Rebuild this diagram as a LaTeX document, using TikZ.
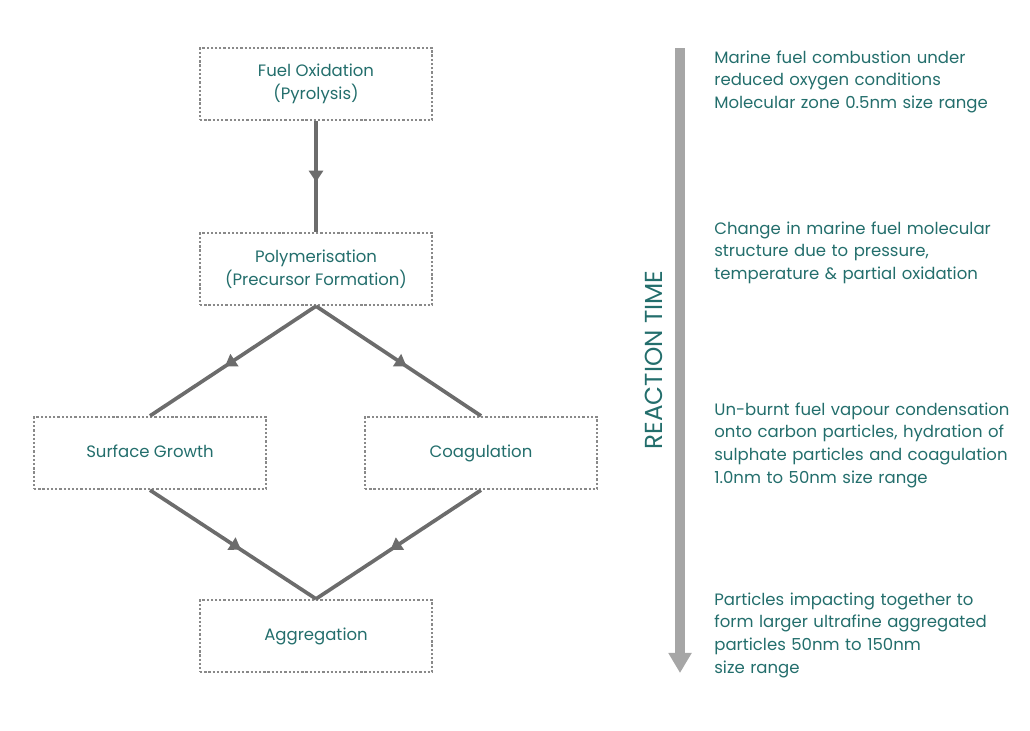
\documentclass[tikz,border=0pt]{standalone}
\usepackage{fontspec}
\setmainfont{Poppins}
\usetikzlibrary{arrows.meta,decorations.markings}
\definecolor{tealtext}{RGB}{35,110,108}
\definecolor{flowgray}{RGB}{108,108,108}
\definecolor{timegray}{RGB}{166,166,166}

\begin{document}
\begin{tikzpicture}[x=0.02cm, y=-0.02cm,
  stage/.style={draw=flowgray!80, line width=1.3pt, dash pattern=on 1.3pt off 1.1pt,
    minimum width=4.64cm, minimum height=1.44cm, align=center, text=tealtext,
    font=\fontsize{9.4}{13}\selectfont},
  oneline/.style={text height=0.75em, text depth=0.25em},
  flow/.style={flowgray, line width=2.1pt, postaction={decorate},
    decoration={markings, mark=at position 0.55 with {\arrow{Triangle[width=8pt,length=6.5pt]}}}},
  note/.style={anchor=base west, align=left, inner sep=0pt, text width=6.4cm, text=tealtext,
    font=\fontsize{9.4}{12.9}\selectfont}]
\useasboundingbox (0,0) rectangle (1030,730);

% flow chart
\node[stage] (fuel) at (316,84) {Fuel Oxidation\\(Pyrolysis)};
\node[stage] (poly) at (316,269) {Polymerisation\\(Precursor Formation)};
\node[stage, oneline] (surface) at (150,453) {Surface Growth};
\node[stage, oneline] (coag) at (481,453) {Coagulation};
\node[stage, oneline] (aggr) at (316,636) {Aggregation};

\draw[flow] (fuel) -- (poly);
\draw[flow] (poly.south) -- (surface.north);
\draw[flow] (poly.south) -- (coag.north);
\draw[flow] (surface.south) -- (aggr.north);
\draw[flow] (coag.south) -- (aggr.north);

% reaction time
\coordinate (tstart) at (680,48);
\coordinate (tend) at (680,673);
\draw[timegray, line width=5.7pt, -{Triangle[width=12.5pt,length=11.4pt]}] (tstart) -- (tend);
\node[rotate=90, text=tealtext, font=\fontsize{14}{17}\selectfont] (rtime) at (654,360) {REACTION TIME};

\node[note] (n1) at (714,63) {Marine fuel combustion under\\reduced oxygen conditions\\Molecular zone 0.5nm size range};
\node[note] (n2) at (714,234) {Change in marine fuel molecular\\structure due to pressure,\\temperature \& partial oxidation};
\node[note] (n3) at (714,415) {Un-burnt fuel vapour condensation\\onto carbon particles, hydration of\\sulphate particles and coagulation\\1.0nm to 50nm size range};
\node[note] (n4) at (714,605) {Particles impacting together to\\form larger ultrafine aggregated\\particles 50nm to 150nm\\size range};
\end{tikzpicture}
\end{document}
